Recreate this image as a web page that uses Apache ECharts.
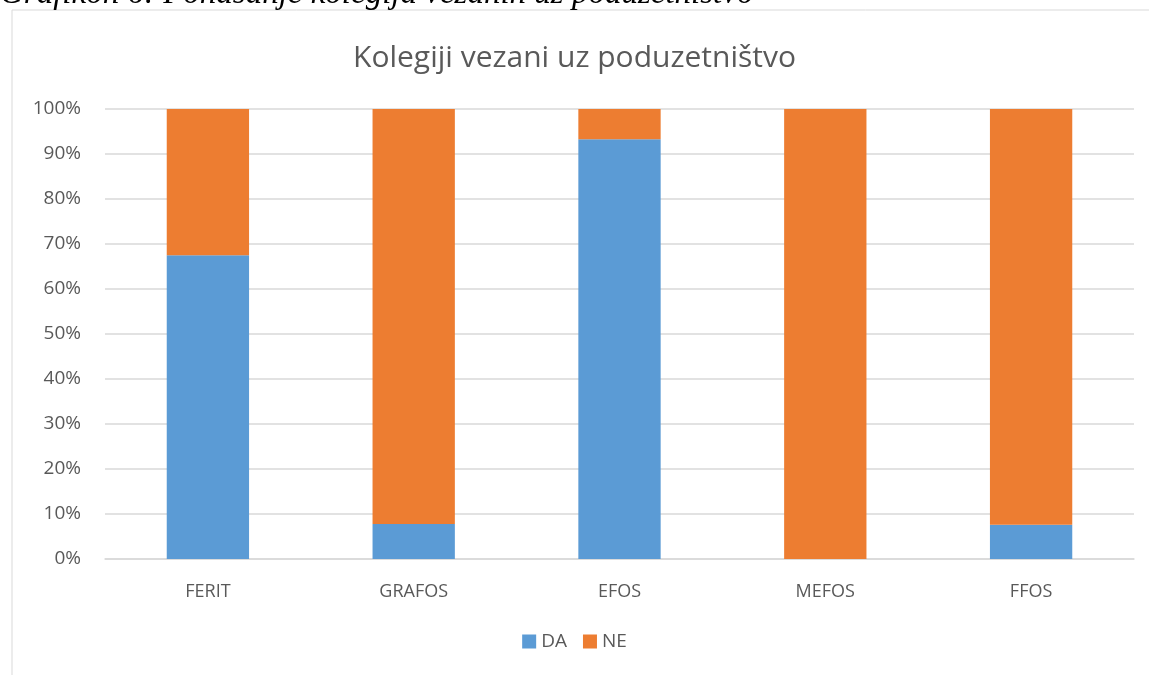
<!DOCTYPE html>
<html>
<head>
<meta charset="utf-8">
<script src="https://cdn.jsdelivr.net/npm/echarts@6/dist/echarts.min.js"></script>
<style>
html,body{margin:0;padding:0;background:#fff;}
#chart{width:1149px;height:675px;}
</style>
</head>
<body>
<div id="chart"></div>
<script>
const categories = ['FERIT', 'GRAFOS', 'EFOS', 'MEFOS', 'FFOS'];
const daValues = [67.5, 7.8, 93.3, 0, 7.6];
const neValues = [32.5, 92.2, 6.7, 100, 92.4];
const seriesNames = ['DA', 'NE'];
const titleText = 'Kolegiji vezani uz poduzetništvo';
const captionText = 'Grafikon 6: Ponašanje kolegija vezanih uz poduzetništvo';

const chart = echarts.init(document.getElementById('chart'));
const font = '"Open Sans", "Noto Sans", sans-serif';
chart.setOption({
  animation: false,
  graphic: [
    {type: 'rect', shape: {x: 12, y: 10, width: 1200, height: 700}, style: {fill: '#fff', stroke: '#d9d9d9', lineWidth: 1}, z: -10},
    {type: 'text', left: 0, top: -22, style: {text: captionText, font: 'italic 33px "Liberation Serif", "DejaVu Serif", serif', fill: '#000'}, z: 10}
  ],
  title: {
    text: titleText, left: 'center', top: 38,
    textStyle: {fontFamily: font, fontWeight: 'normal', fontSize: 30, color: '#595959'}
  },
  legend: {
    data: seriesNames, bottom: 19, left: 'center', icon: 'rect', itemWidth: 14, itemHeight: 14, itemGap: 16,
    textStyle: {fontFamily: font, fontSize: 19, color: '#595959'}
  },
  grid: {left: 105, right: 15, top: 109, bottom: 116},
  xAxis: {
    type: 'category', data: categories,
    axisLine: {lineStyle: {color: '#d9d9d9', width: 1.5}},
    axisTick: {show: false},
    axisLabel: {fontFamily: font, fontSize: 18, color: '#595959', margin: 24}
  },
  yAxis: {
    type: 'value', min: 0, max: 100, interval: 10,
    axisLine: {show: false}, axisTick: {show: false},
    axisLabel: {formatter: '{value}%', fontFamily: font, fontSize: 19, color: '#595959', margin: 24},
    splitLine: {lineStyle: {color: '#d9d9d9', width: 1.5}}
  },
  series: [
    {name: seriesNames[0], type: 'bar', stack: 'a', data: daValues, barWidth: '40%', itemStyle: {color: '#5B9BD5'}},
    {name: seriesNames[1], type: 'bar', stack: 'a', data: neValues, barWidth: '40%', itemStyle: {color: '#ED7D31'}}
  ]
});
</script>
</body>
</html>
